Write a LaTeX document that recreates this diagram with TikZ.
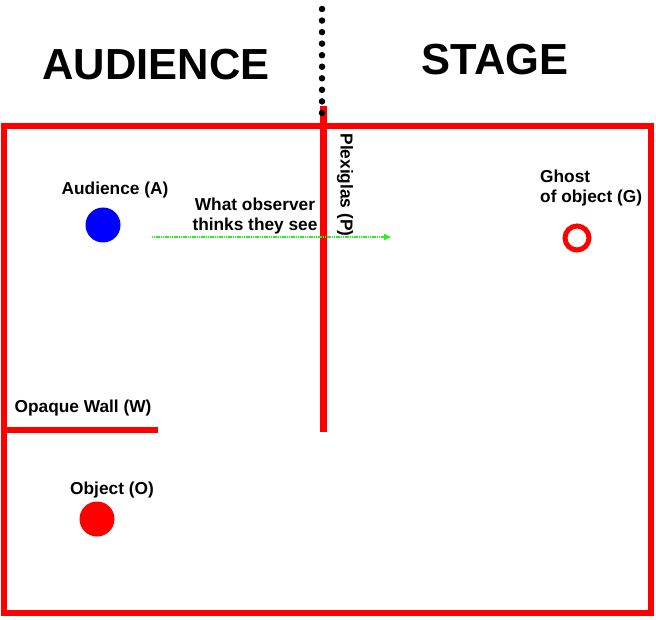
\documentclass[tikz,border=0pt]{standalone}
\usepackage{fontspec}
\setmainfont{Liberation Sans}
\usetikzlibrary{arrows.meta}
\definecolor{wred}{RGB}{255,0,0}
\definecolor{wblue}{RGB}{0,0,255}
\definecolor{wgreen}{RGB}{40,240,40}
\tikzset{
  wall/.style={draw=wred,line width=5.5pt},
  lbl/.style={font=\bfseries\fontsize{17.3}{21}\selectfont,inner sep=0pt},
  big/.style={font=\bfseries\fontsize{43.5}{50}\selectfont,inner sep=0pt},
}
\begin{document}
\begin{tikzpicture}[x=1pt,y=-1pt]
\useasboundingbox (0,0) rectangle (656,620);
% outer box
\draw[wall] (4,126) rectangle (651,613);
% plexiglas
\coordinate (ptop) at (323,106);
\coordinate (pbot) at (323,432);
\draw[draw=wred,line width=7pt] (ptop) -- (pbot);
% dotted line above
\coordinate (dtop) at (322,9);
\coordinate (dbot) at (322,113);
\draw[line width=6.5pt,line cap=round,dash pattern=on 0pt off 11.55pt] (dtop) -- (dbot);
% opaque wall
\coordinate (w1) at (4,430);
\coordinate (w2) at (158,430);
\draw[wall] (w1) -- (w2);
% headings
\node[big] (aud) at (156,65) {AUDIENCE};
\node[big] (stage) at (495,60) {STAGE};
% circles
\node[circle,fill=wblue,minimum size=35pt,inner sep=0pt] (A) at (103,225) {};
\node[circle,fill=wred,minimum size=35pt,inner sep=0pt] (O) at (97,519) {};
\node[circle,draw=wred,line width=5pt,minimum size=24pt,inner sep=0pt] (G) at (577,238) {};
% labels
\node[lbl] (la) at (115,190) {Audience (A)};
\node[lbl,align=center] (lw) at (255,216) {What observer\\[-1pt]thinks they see};
\node[lbl,rotate=-90] (lp) at (345,185) {Plexiglas (P)};
\node[lbl,align=left,anchor=north west] (lg) at (540,170) {Ghost\\[-1pt]of object (G)};
\node[lbl] (lwall) at (83,408) {Opaque Wall (W)};
\node[lbl] (lo) at (112,490) {Object (O)};
% green arrow
\coordinate (g1) at (152,237);
\coordinate (g2) at (392,237);
\draw[wgreen,line width=2.2pt,dash pattern=on 1.2pt off 0.6pt,-{Latex[length=8pt,width=7pt]}] (g1) -- (g2);
\end{tikzpicture}
\end{document}
